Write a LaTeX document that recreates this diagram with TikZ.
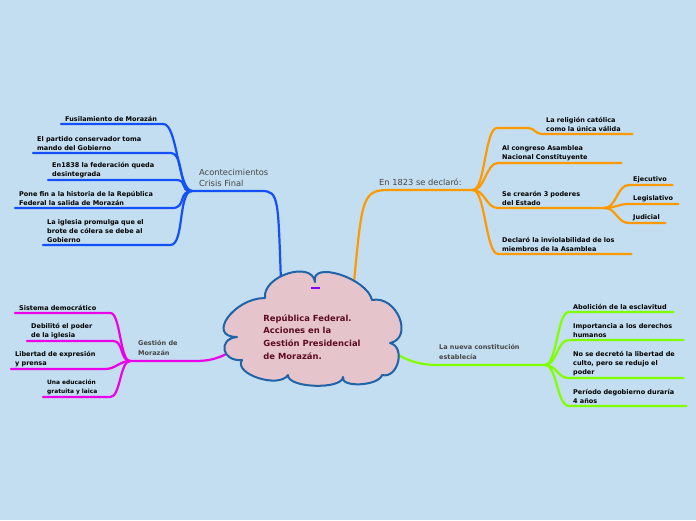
\documentclass[tikz,border=0pt]{standalone}
\usepackage{fontspec}
\setmainfont{DejaVu Sans}
\definecolor{bgblue}{RGB}{195,222,240}
\definecolor{cloudfill}{RGB}{230,196,203}
\definecolor{cloudline}{RGB}{31,99,168}
\definecolor{titlered}{RGB}{92,12,32}
\definecolor{labelgray}{RGB}{70,70,70}
\definecolor{brblue}{RGB}{20,80,250}
\definecolor{brorange}{RGB}{255,153,0}
\definecolor{brmagenta}{RGB}{235,0,235}
\definecolor{brgreen}{RGB}{128,255,0}
\definecolor{markpurple}{RGB}{127,0,255}
\begin{document}
\begin{tikzpicture}[x=1pt, y=-1pt,
  leaf/.style={anchor=south west, inner xsep=4pt, inner ysep=2pt, align=left,
    font=\bfseries\fontsize{6.5}{9}\selectfont},
  topic/.style={anchor=west, inner sep=2pt, align=left, text=labelgray},
  bigtopic/.style={topic, font=\fontsize{8.3}{11}\selectfont},
  smalltopic/.style={topic, font=\bfseries\fontsize{6.5}{10}\selectfont},
  branch/.style={line width=2.2pt, line cap=round},
  cloudshape/.style={draw=cloudline, fill=cloudfill, line width=2pt, line join=round}
]
\useasboundingbox[fill=bgblue] (0,0) rectangle (696,520);

% hubs and roots
\coordinate (hubA) at (192,191);
\coordinate (hubO) at (473,190);
\coordinate (hubM) at (130,361);
\coordinate (hubG) at (545,365);
\coordinate (rootA) at (281,282);
\coordinate (rootO) at (354,282);
\coordinate (rootM) at (244,343);
\coordinate (rootG) at (393,352);

% topic labels
\node[bigtopic] (acont) at (197,178) {Acontecimientos\\Crisis Final};
\node[bigtopic] (decl) at (377,182) {En 1823 se declaró:};
\node[smalltopic] (gest) at (136,348) {Gestión de\\Morazán};
\node[smalltopic] (nueva) at (437,352) {La nueva constitución\\establecía};

% leaves, blue
\node[leaf, text width=94pt] (b1) at (61,124) {Fusilamiento de Morazán};
\node[leaf, text width=129pt] (b2) at (33,153) {El partido conservador toma\\mando del Gobierno};
\node[leaf, text width=119pt] (b3) at (48,180) {En1838 la federación queda\\desintegrada};
\node[leaf, text width=149pt] (b4) at (15,208) {Pone fin a la historia de la República\\Federal la salida de Morazán};
\node[leaf, text width=119pt] (b5) at (43,245) {La iglesia promulga que el\\brote de cólera se debe al\\Gobierno};

% leaves, orange
\node[leaf, text width=82pt] (o1) at (542,134) {La religión católica\\como la única válida};
\node[leaf, text width=115pt] (o2) at (498,163) {Al congreso Asamblea\\Nacional Constituyente};
\node[leaf, text width=98pt] (o3) at (498,208) {Se crearón 3 poderes\\del Estado};
\node[leaf, text width=125pt] (o4) at (498,254) {Declaró la inviolabilidad de los\\miembros de la Asamblea};
\node[leaf, text width=35pt] (o5) at (629,185) {Ejecutivo};
\node[leaf, text width=41pt] (o6) at (629,204) {Legislativo};
\node[leaf, text width=28pt] (o7) at (629,223) {Judicial};

% leaves, magenta
\node[leaf, text width=87pt] (m1) at (15,313) {Sistema democrático};
\node[leaf, text width=78pt] (m2) at (27,341) {Debilitó el poder\\de la iglesia};
\node[leaf, text width=86pt] (m3) at (11,369) {Libertad de expresión\\y prensa};
\node[leaf, text width=59pt, font=\bfseries\fontsize{5.9}{9}\selectfont] (m4) at (43,397) {Una educación\\gratuita y laica};

% leaves, green
\node[leaf, text width=96pt] (g1) at (569,312) {Abolición de la esclavitud};
\node[leaf, text width=106pt] (g2) at (569,340) {Importancia a los derechos\\humanos};
\node[leaf, text width=106pt] (g3) at (569,378) {No se decretó la libertad de\\culto, pero se redujo el\\poder};
\node[leaf, text width=109pt] (g4) at (569,406) {Período degobierno duraría\\4 años};

% main branches
\draw[branch, brblue] (rootA) .. controls (278,200) and (279,191) .. (262,191) -- (hubA);
\draw[branch, brorange] (rootO) .. controls (362,200) and (362,190) .. (388,190) -- (hubO);
\draw[branch, brmagenta] (rootM) .. controls (225,356) and (215,361) .. (195,361) -- (hubM);
\draw[branch, brgreen] (rootG) .. controls (410,362) and (420,365) .. (440,365) -- (hubG);

% blue connectors
\foreach \n in {b1,b2,b3,b4,b5}
  \draw[branch, brblue] (hubA) .. controls +(-14,0) and +(14,0) .. (\n.south east) -- (\n.south west);
% orange connectors
\draw[branch, brorange] (hubO) .. controls +(12,0) and +(-12,0) .. ([xshift=-45pt,yshift=6pt]o1.south west)
  -- ([xshift=-14pt,yshift=6pt]o1.south west) .. controls +(7,0) and +(-7,0) .. (o1.south west) -- (o1.south east);
\foreach \n in {o2,o3,o4}
  \draw[branch, brorange] (hubO) .. controls +(12,0) and +(-12,0) .. (\n.south west) -- (\n.south east);
\foreach \n in {o5,o6,o7}
  \draw[branch, brorange] (o3.south east) .. controls +(12,0) and +(-12,0) .. (\n.south west) -- (\n.south east);
% magenta connectors
\foreach \n in {m1,m2,m3,m4}
  \draw[branch, brmagenta] (hubM) .. controls +(-10,0) and +(10,0) .. (\n.south east) -- (\n.south west);
% green connectors
\foreach \n in {g1,g2,g3,g4}
  \draw[branch, brgreen] (hubG) .. controls +(12,0) and +(-12,0) .. (\n.south west) -- (\n.south east);

% central topic
\draw[cloudshape] (265,298) .. controls (262,276) and (312,260) .. (315,282)
  .. controls (310,260) and (367,278) .. (372,300)
  .. controls (397,295) and (414,338) .. (390,343)
  .. controls (406,347) and (398,379) .. (382,375)
  .. controls (379,386) and (340,388) .. (343,377)
  .. controls (342,390) and (287,388) .. (288,375)
  .. controls (279,389) and (233,374) .. (242,360)
  .. controls (222,362) and (217,339) .. (237,337)
  .. controls (206,337) and (234,298) .. cycle;
\node[align=left, text=titlered, font=\bfseries\fontsize{8.4}{12.7}\selectfont] (title) at (312,337)
  {República Federal.\\Acciones en la\\Gestión Presidencial\\de Morazán.};
\draw[line width=2pt, markpurple] (311,288) -- (320,288);
\end{tikzpicture}
\end{document}
